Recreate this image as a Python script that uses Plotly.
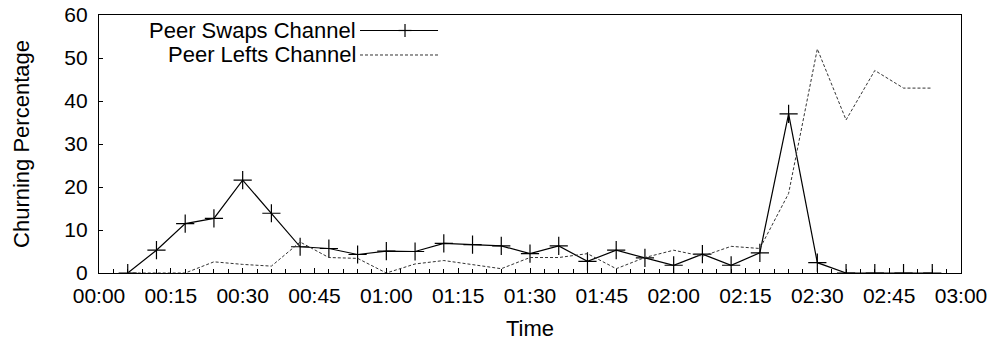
import plotly.graph_objects as go

# Sample times (HH:MM) and churning percentages per channel event type
times = ["00:06", "00:12", "00:18", "00:24", "00:30", "00:36", "00:42", "00:48",
         "00:54", "01:00", "01:06", "01:12", "01:18", "01:24", "01:30", "01:36",
         "01:42", "01:48", "01:54", "02:00", "02:06", "02:12", "02:18", "02:24",
         "02:30", "02:36", "02:42", "02:48", "02:54"]
peer_swaps = [0, 5.3, 11.5, 12.7, 21.6, 13.9, 6.1, 5.7, 4.3, 5.1, 5.0, 6.9, 6.6, 6.3,
              4.5, 6.3, 2.7, 5.3, 3.5, 1.8, 4.4, 1.8, 4.7, 37.0, 2.4, 0, 0, 0, 0]
peer_lefts = [0, 0, 0, 2.6, 2.0, 1.6, 7.2, 3.6, 3.4, 0, 2.1, 2.9, 2.0, 1.0,
              3.6, 3.6, 4.5, 1.0, 3.6, 5.3, 3.9, 6.2, 5.7, 18.5, 52.1, 35.6, 47.1, 43.0, 43.0]
tick_labels = ["00:00", "00:15", "00:30", "00:45", "01:00", "01:15", "01:30",
               "01:45", "02:00", "02:15", "02:30", "02:45", "03:00"]

DAY = "2000-01-01 "
x = [DAY + t for t in times]
tick_vals = [DAY + t for t in tick_labels]

FONT = "Liberation Sans, Arial, Helvetica, sans-serif"
TICK_SIZE = 21
TEXT_SIZE = 22

fig = go.Figure()
fig.add_trace(go.Scatter(
    x=x, y=peer_swaps, mode="lines+markers", name="Peer Swaps Channel",
    line=dict(color="black", width=1.2),
    marker=dict(symbol="cross-thin", size=13, color="black",
                line=dict(color="black", width=1.2)),
    showlegend=False,
))
fig.add_trace(go.Scatter(
    x=x, y=peer_lefts, mode="lines", name="Peer Lefts Channel",
    line=dict(color="#333333", width=1, dash="3px,2px"),
    showlegend=False,
))

# Key in the upper left: right-aligned labels followed by line samples
key_rows = [("Peer Swaps Channel", 0.940, "solid"), ("Peer Lefts Channel", 0.845, "3px,2px")]
for label, ypos, dash in key_rows:
    fig.add_annotation(x=0.300, y=ypos, xref="paper", yref="paper", text=label,
                       showarrow=False, xanchor="right", yanchor="middle",
                       font=dict(family=FONT, size=TEXT_SIZE, color="black"))
    fig.add_shape(type="line", xref="paper", yref="paper",
                  x0=0.3028, x1=0.3933, y0=ypos, y1=ypos,
                  line=dict(color="black" if dash == "solid" else "#333333",
                            width=1.2 if dash == "solid" else 1, dash=dash))
# plus sign on the first key sample
fig.add_shape(type="line", xref="paper", yref="paper", x0=0.3475, x1=0.3625,
              y0=0.940, y1=0.940, line=dict(color="black", width=1.2))
fig.add_shape(type="line", xref="paper", yref="paper", x0=0.355, x1=0.355,
              y0=0.940 - 0.025, y1=0.940 + 0.025, line=dict(color="black", width=1.2))

fig.update_xaxes(
    type="date", range=[DAY + "00:00", DAY + "03:00"], automargin=False,
    tickvals=tick_vals, ticktext=tick_labels,
    ticks="inside", ticklen=5, tickcolor="black", tickwidth=1,
    minor=dict(dtick=180000, ticks="inside", ticklen=4, tickcolor="black", tickwidth=1),
    showline=True, linecolor="black", linewidth=1.3, mirror=True,
    showgrid=False, zeroline=False, ticklabelstandoff=4,
    tickfont=dict(family=FONT, size=TICK_SIZE, color="black"),
    title=dict(text="Time", font=dict(family=FONT, size=TEXT_SIZE, color="black"), standoff=14),
)
fig.update_yaxes(
    range=[0, 60], tickvals=[0, 10, 20, 30, 40, 50, 60], automargin=False,
    ticks="inside", ticklen=4, tickcolor="black", tickwidth=1,
    showline=True, linecolor="black", linewidth=1.3, mirror=True,
    showgrid=False, zeroline=False, ticklabelstandoff=6,
    tickfont=dict(family=FONT, size=TICK_SIZE, color="black"),
    title=dict(text="Churning Percentage", font=dict(family=FONT, size=TEXT_SIZE, color="black"),
               standoff=28),
)
fig.update_layout(
    width=992, height=341,
    margin=dict(l=99, r=31, t=15, b=68),
    paper_bgcolor="white", plot_bgcolor="white",
)
fig.write_html("out.html")
